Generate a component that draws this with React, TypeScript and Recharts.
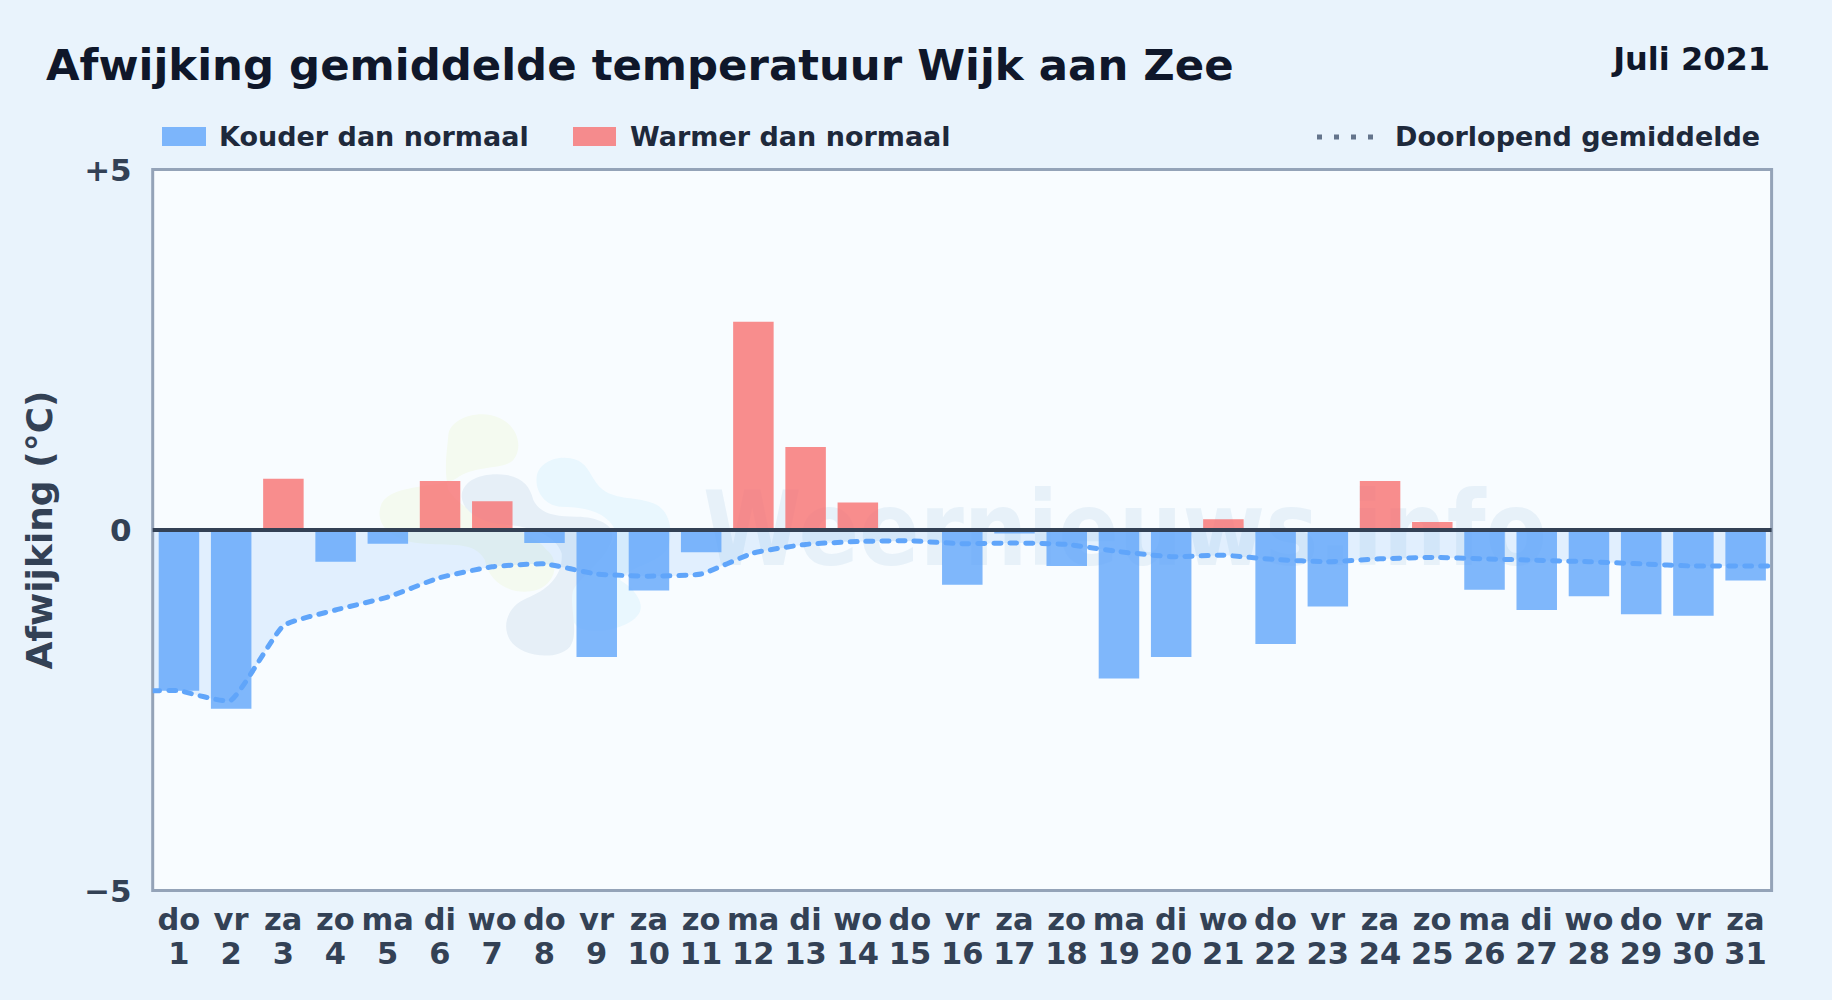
import React from 'react';
import { ComposedChart, Bar, Line, Area, Cell, XAxis, YAxis, ReferenceLine, ReferenceArea } from 'recharts';

const TITLE = 'Afwijking gemiddelde temperatuur Wijk aan Zee';
const PERIOD = 'Juli 2021';
const Y_LABEL = 'Afwijking (°C)';
const LEGEND_COLD = 'Kouder dan normaal';
const LEGEND_WARM = 'Warmer dan normaal';
const LEGEND_AVG = 'Doorlopend gemiddelde';
const WATERMARK = 'Weernieuws.info';

const days = [1,2,3,4,5,6,7,8,9,10,11,12,13,14,15,16,17,18,19,20,21,22,23,24,25,26,27,28,29,30,31];
const weekdays = ['do','vr','za','zo','ma','di','wo','do','vr','za','zo','ma','di','wo','do','vr','za','zo','ma','di','wo','do','vr','za','zo','ma','di','wo','do','vr','za'];
const deviations = [-2.23,-2.48,0.71,-0.44,-0.19,0.68,0.40,-0.18,-1.76,-0.84,-0.31,2.89,1.15,0.38,0,-0.76,-0.05,-0.50,-2.06,-1.76,0.15,-1.58,-1.06,0.68,0.11,-0.83,-1.11,-0.92,-1.17,-1.19,-0.70];
const runningAvg = [-2.23,-2.36,-1.33,-1.11,-0.93,-0.66,-0.51,-0.47,-0.61,-0.64,-0.61,-0.32,-0.20,-0.16,-0.15,-0.19,-0.18,-0.20,-0.30,-0.37,-0.35,-0.41,-0.44,-0.40,-0.38,-0.40,-0.42,-0.44,-0.47,-0.50,-0.50];
const yTicks = [-5, 0, 5];
const yTickLabels = ['−5', '0', '+5'];

const barRows = days.map((d, i) => ({ day: d, value: deviations[i] }));
const avgRows = [
  { pos: 0.5, avg: runningAvg[0] },
  ...days.map((d, i) => ({ pos: d, avg: runningAvg[i] })),
  { pos: 31.5, avg: runningAvg[30] },
];

const FONT = '"DejaVu Sans", sans-serif';
const PAGE_BG = '#e9f3fc';
const PLOT_BG = '#f8fcff';
const INK = '#0f172a';
const LABEL = '#334155';
const COLD = '#60a5fa';
const WARM = '#f87171';

// Spline with a small tension: keeps the kinks at days 2 and 3 that the reference's line has.
function tensionCurve(ctx: any) {
  const TENSION = 0.15;
  let pts: [number, number][] = [];
  let lineFlag: number = NaN;
  return {
    areaStart() { lineFlag = 0; },
    areaEnd() { lineFlag = NaN; },
    lineStart() { pts = []; },
    point(x: number, y: number) { pts.push([+x, +y]); },
    lineEnd() {
      const n = pts.length;
      if (n) {
        if (lineFlag) ctx.lineTo(pts[0][0], pts[0][1]);
        else ctx.moveTo(pts[0][0], pts[0][1]);
        const ctrl = (p: any, c: any, q: any) => {
          const d1 = Math.hypot(c[0] - p[0], c[1] - p[1]);
          const d2 = Math.hypot(q[0] - c[0], q[1] - c[1]);
          const sum = d1 + d2 || 1;
          const fa = (TENSION * d1) / sum;
          const fb = (TENSION * d2) / sum;
          return {
            prev: [c[0] - fa * (q[0] - p[0]), c[1] - fa * (q[1] - p[1])],
            next: [c[0] + fb * (q[0] - p[0]), c[1] + fb * (q[1] - p[1])],
          };
        };
        for (let i = 0; i < n - 1; i++) {
          const a = pts[i];
          const b = pts[i + 1];
          const c1 = ctrl(pts[Math.max(i - 1, 0)], a, b).next;
          const c2 = ctrl(a, b, pts[Math.min(i + 2, n - 1)]).prev;
          ctx.bezierCurveTo(c1[0], c1[1], c2[0], c2[1], b[0], b[1]);
        }
      }
      if (lineFlag) ctx.closePath();
      lineFlag = 1 - lineFlag;
    },
  };
}

const XTick = (props: any) => {
  const { x, payload } = props;
  const i = days.indexOf(payload.value);
  return (
    <text x={x} textAnchor="middle" fontFamily={FONT} fontWeight={700} fontSize={30.5} fill={LABEL}>
      <tspan x={x} y={930}>{weekdays[i]}</tspan>
      <tspan x={x} y={964}>{payload.value}</tspan>
    </text>
  );
};

const ChartLegend = () => (
  <div style={{ position: 'absolute', left: 0, top: 0, width: 1832, height: 160, fontFamily: FONT, fontWeight: 700, fontSize: 27, color: '#1e293b' }}>
    <div style={{ position: 'absolute', left: 162, top: 127, width: 44, height: 19, background: COLD, opacity: 0.8 }} />
    <div style={{ position: 'absolute', left: 219, top: 122, lineHeight: '30px', whiteSpace: 'nowrap' }}>{LEGEND_COLD}</div>
    <div style={{ position: 'absolute', left: 573, top: 127, width: 43, height: 19, background: WARM, opacity: 0.8 }} />
    <div style={{ position: 'absolute', left: 630, top: 122, lineHeight: '30px', whiteSpace: 'nowrap' }}>{LEGEND_WARM}</div>
    <svg style={{ position: 'absolute', left: 1315, top: 130 }} width={60} height={14}>
      <line x1={2} x2={58} y1={7} y2={7} stroke="#64748b" strokeWidth={5} strokeDasharray="5 12" />
    </svg>
    <div style={{ position: 'absolute', left: 1395, top: 122, lineHeight: '30px', whiteSpace: 'nowrap' }}>{LEGEND_AVG}</div>
  </div>
);

export default function App() {
  return (
    <div style={{ position: 'absolute', left: 0, top: 0, width: 1832, height: 1000, background: PAGE_BG, overflow: 'hidden' }}>
      <svg style={{ position: 'absolute', left: 0, top: 0 }} width={1832} height={1000}>
        <rect x={153} y={170} width={1618} height={720} fill={PLOT_BG} />
        <g transform="translate(360,390) scale(0.3333)">
          <path fill="#f4faf0" d="M265,135 C270,85 360,55 420,85 C475,110 490,175 460,210 C430,240 340,225 290,265 C240,295 100,280 65,340 C40,400 90,450 180,460 C270,470 340,450 375,510 C385,580 460,620 530,600 C590,580 600,510 560,480 C500,400 330,400 265,300 C250,230 262,180 265,135 Z" />
          <path fill="#e9f7fe" d="M530,260 C535,215 600,190 650,210 C690,225 695,275 730,300 C770,330 830,320 880,340 C930,360 940,420 925,470 C905,520 800,530 780,570 C830,600 850,640 840,665 C820,710 720,735 660,715 C620,690 630,630 640,590 C660,550 760,480 770,430 C750,370 680,350 600,350 C550,345 525,300 530,260 Z" />
          <path fill="#e6eff7" d="M305,320 C305,270 370,245 440,255 C490,265 510,290 520,330 C540,370 580,380 650,380 C720,380 760,410 755,430 C770,480 660,560 640,600 C625,640 660,730 630,770 C590,815 480,800 450,750 C425,710 440,650 500,625 C560,600 610,560 605,490 C590,440 520,410 440,405 C370,400 310,370 305,320 Z" />
        </g>
        <text transform="translate(703,565) scale(0.86,1)" fontFamily={FONT} fontWeight={700} fontSize={104} fill="#e7f1f9">{WATERMARK}</text>
        <text x={46} y={80} fontFamily={FONT} fontWeight={700} fontSize={43.4} fill={INK}>{TITLE}</text>
        <text x={1770} y={70} textAnchor="end" fontFamily={FONT} fontWeight={700} fontSize={32} fill={INK}>{PERIOD}</text>
        <text transform="rotate(-90 38.5 530)" x={38.5} y={530} dy={13} textAnchor="middle" fontFamily={FONT} fontWeight={700} fontSize={36} fill={LABEL}>{Y_LABEL}</text>
      </svg>
      <ChartLegend />
      <div style={{ position: 'absolute', left: 0, top: 0 }}>
        <ComposedChart width={1832} height={1000} data={barRows} margin={{ top: 169.5, right: 60.4, bottom: 0, left: 0 }}>
          <XAxis dataKey="day" type="category" interval={0} padding={{ left: 0, right: 0 }} axisLine={false} tickLine={false} tick={<XTick />} height={109.5} />
          <XAxis xAxisId="avg" dataKey="pos" type="number" domain={[0.5, 31.5]} hide allowDataOverflow />
          <YAxis type="number" domain={[-5, 5]} ticks={yTicks} interval={0} width={152.7} axisLine={false} tickLine={false} tickSize={0} tickMargin={21}
            tickFormatter={(v: number) => yTickLabels[yTicks.indexOf(v)]}
            tick={{ fontFamily: FONT, fontWeight: 700, fontSize: 31, fill: LABEL }} />
          <Area xAxisId="avg" data={avgRows} dataKey="avg" type={tensionCurve as any} baseValue={0} stroke="none" fill={COLD} fillOpacity={0.15} isAnimationActive={false} dot={false} activeDot={false} />
          <Bar dataKey="value" barSize={40.5} isAnimationActive={false}>
            {days.map((d, i) => <Cell key={d} fill={deviations[i] < 0 ? COLD : WARM} fillOpacity={0.8} />)}
          </Bar>
          <Line xAxisId="avg" data={avgRows} dataKey="avg" type={tensionCurve as any} stroke={COLD} strokeWidth={5} strokeDasharray="7 9" strokeLinecap="round" dot={false} activeDot={false} isAnimationActive={false} />
          <ReferenceArea xAxisId="avg" x1={0.5} x2={31.5} y1={-5} y2={5} fill="none" stroke="#94a3b8" strokeWidth={3} ifOverflow="visible" />
          <ReferenceLine y={0} stroke={LABEL} strokeWidth={4} ifOverflow="visible" />
        </ComposedChart>
      </div>
    </div>
  );
}
